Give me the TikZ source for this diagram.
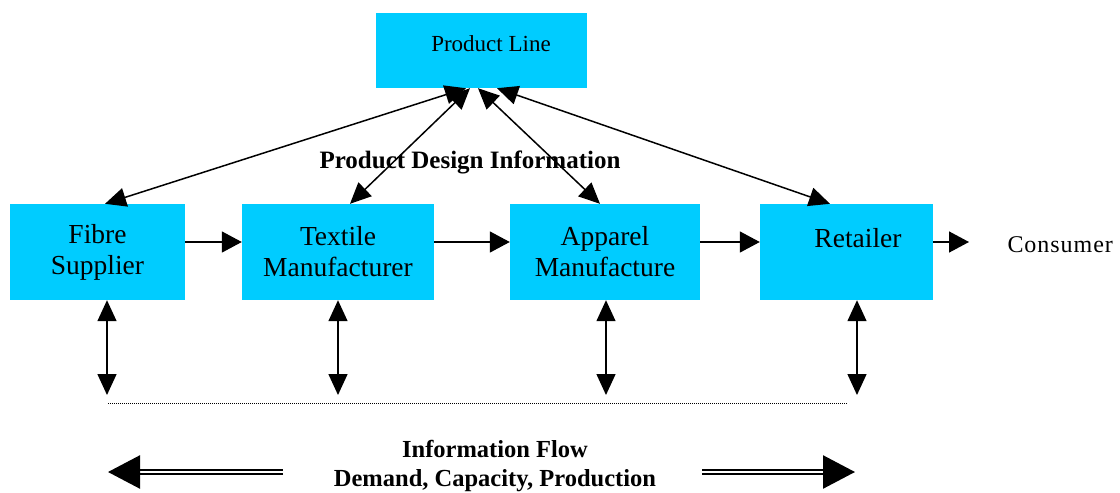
\documentclass[tikz,border=0pt]{standalone}
\usepackage{fontspec}
\setmainfont{Liberation Serif}
\usetikzlibrary{arrows.meta}
\definecolor{boxblue}{RGB}{0,204,255}

\begin{document}
\begin{tikzpicture}[x=1pt, y=-1pt,
                    stage/.style={fill=boxblue, minimum height=96pt, inner sep=0pt,
                                  align=center, font=\fontsize{27.5}{31}\selectfont},
                    flow/.style={-{Triangle[length=20pt,width=21pt]}, line width=1.5pt},
                    link/.style={{Triangle[length=21pt,width=19pt]}-{Triangle[length=21pt,width=19pt]}, line width=1.5pt},
                    bigflow/.style={line width=2.4pt, double distance=2pt,
                                    -{Triangle[length=32pt,width=33pt]}},
                    heading/.style={font=\bfseries\fontsize{25}{29}\selectfont, align=center}]
  \useasboundingbox (0,0) rectangle (1120,493);

  % supply chain stages
  \node[stage, minimum width=211pt, minimum height=75pt,
        label={[name=line-text, font=\fontsize{23}{27}\selectfont, xshift=9.5pt, yshift=6.5pt]center:Product Line}]
        (line) at (481.5,50.5) {};
  \node[stage, minimum width=175pt] (fibre) at (97.5,252) {Fibre\\Supplier};
  \node[stage, minimum width=192pt] (textile) at (338,252) {Textile\\Manufacturer};
  \node[stage, minimum width=190pt] (apparel) at (605,252) {Apparel\\Manufacture};
  \node[stage, minimum width=173pt,
        label={[name=retail-text, font=\fontsize{27.5}{31}\selectfont, xshift=11.5pt, yshift=14pt]center:Retailer}]
        (retail) at (846.5,252) {};
  \node[font=\fontsize{24}{28}\selectfont\addfontfeature{LetterSpace=4}, anchor=west] (consumer) at (1004,245) {Consumer};

  % material flow
  \draw[flow] ([yshift=10pt]fibre.east) -- ([yshift=10pt]textile.west);
  \draw[flow] ([yshift=10pt]textile.east) -- ([yshift=10pt]apparel.west);
  \draw[flow] ([yshift=10pt]apparel.east) -- ([yshift=10pt]retail.west);
  \draw[flow, shorten >=35pt] ([yshift=10pt]retail.east) -- ([yshift=10pt]retail.east -| consumer.west);

  % design information
  \draw[link] ([xshift=-15.5pt]line.south) -- ([xshift=7.5pt]fibre.north);
  \draw[link] ([xshift=-11.5pt]line.south) -- ([xshift=12pt]textile.north);
  \draw[link] ([xshift=-3.5pt]line.south) -- ([xshift=-5pt]apparel.north);
  \draw[link] ([xshift=15.5pt]line.south) -- ([xshift=-16.5pt]retail.north);
  \node[heading] (design) at (470,162) {Product Design Information};

  % information exchange
  \coordinate (fibre-i) at (107,395);
  \coordinate (textile-i) at (338,395);
  \coordinate (apparel-i) at (606,395);
  \coordinate (retail-i) at (857,395);
  \draw[link] (fibre-i |- fibre.south) -- (fibre-i);
  \draw[link] (textile-i |- textile.south) -- (textile-i);
  \draw[link] (apparel-i |- apparel.south) -- (apparel-i);
  \draw[link] (retail-i |- retail.south) -- (retail-i);

  \coordinate (dot-l) at (108,403);
  \coordinate (dot-r) at (848,403);
  \draw[line width=1pt, dash pattern=on 1pt off 1pt] (dot-l) -- (dot-r);

  \node[heading, font=\bfseries\fontsize{24.5}{29}\selectfont] (info) at (495,466.5)
       {Information Flow\\Demand, Capacity, Production};
  \coordinate (left-a) at (283,472);
  \coordinate (left-b) at (108,472);
  \coordinate (right-a) at (702,472);
  \coordinate (right-b) at (855,472);
  \draw[bigflow] (left-a) -- (left-b);
  \draw[bigflow] (right-a) -- (right-b);
\end{tikzpicture}
\end{document}
